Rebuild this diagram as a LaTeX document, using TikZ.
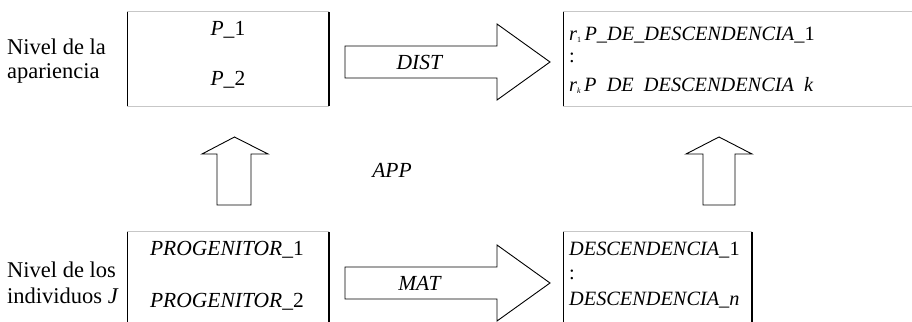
\documentclass[tikz,border=0pt]{standalone}
\usepackage{fontspec}
\setmainfont{Liberation Serif}
\begin{document}
\begin{tikzpicture}[x=1pt,y=-1pt,
  sidel/.style={line width=1.6pt,black},
  tbl/.style={line width=1pt,black!22},
  blockarrow/.style={draw=black,line width=0.9pt,fill=white,line join=miter},
  txt/.style={inner sep=0pt,font=\fontsize{21.5}{24}\selectfont},
  lbl/.style={inner sep=0pt,anchor=west,font=\fontsize{20.3}{24}\selectfont},
  side/.style={inner sep=0pt,anchor=west,font=\fontsize{22.5}{24}\selectfont},
  box/.style={inner sep=0pt,draw=none}]
\useasboundingbox (0,0) rectangle (912,321);
% boxes (invisible nodes, borders drawn below)
\node[box,minimum width=201.5pt,minimum height=94pt] (tl) at (228.25,59) {};
\node[box,minimum width=370pt,minimum height=94pt] (tr) at (748.5,59) {};
\node[box,minimum width=201.5pt,minimum height=98pt] (bl) at (228.25,281) {};
\node[box,minimum width=188.5pt,minimum height=98pt] (br) at (657.75,281) {};
\foreach \b in {tl,tr,bl,br}{
  \draw[tbl] (\b.north west) -- (\b.north east);
  \draw[tbl] (\b.south west) -- (\b.south east);
  \draw[sidel] (\b.north west) -- (\b.south west);
  \draw[sidel] (\b.north east) -- (\b.south east);
}
% block arrows
\draw[blockarrow] (345,46) -- (497,46) -- (497,24) -- (550,62) -- (497,100) -- (497,78) -- (345,78) -- cycle;
\draw[blockarrow] (345,267) -- (497,267) -- (497,245) -- (550,283) -- (497,321) -- (497,299) -- (345,299) -- cycle;
\draw[blockarrow] (217,205) -- (217,154) -- (202,154) -- (234.5,137) -- (268,154) -- (251,154) -- (251,205) -- cycle;
\draw[blockarrow] (703,205) -- (703,154) -- (686,154) -- (719,137) -- (752,154) -- (735,154) -- (735,205) -- cycle;
% texts
\node[side] (n1) at (7,47) {Nivel de la};
\node[side] (n2) at (7,73) {apariencia};
\node[txt] (p1) at (228,30) {\textit{P\_}1};
\node[txt] (p2) at (228,80) {\textit{P\_}2};
\node[txt] (dist) at (420,62) {\textit{DIST}};
\node[lbl] (r1) at (569,35) {\textit{r}\raisebox{-2pt}{\fontsize{8}{8}\selectfont 1}\,\textit{P\_DE\_DESCENDENCIA\_}1};
\node[lbl] (dots1) at (569,58) {:};
\node[lbl] (rk) at (569,85) {\textit{r}\raisebox{-2pt}{\fontsize{8}{8}\selectfont\textit{k}}\,\textit{P\ \ DE\ \ DESCENDENCIA\ \ k}};
\node[txt] (app) at (392,170) {\textit{APP}};
\node[side] (n3) at (7,270) {Nivel de los};
\node[side] (n4) at (7,296) {individuos \textit{J}};
\node[txt] (pg1) at (227,250) {\textit{PROGENITOR\_}1};
\node[txt] (pg2) at (227,302) {\textit{PROGENITOR\_}2};
\node[txt] (mat) at (420,283) {\textit{MAT}};
\node[lbl] (d1) at (569,250) {\textit{DESCENDENCIA\_}1};
\node[lbl] (dots2) at (569,275) {:};
\node[lbl] (dn) at (569,300) {\textit{DESCENDENCIA\_n}};
\end{tikzpicture}
\end{document}
